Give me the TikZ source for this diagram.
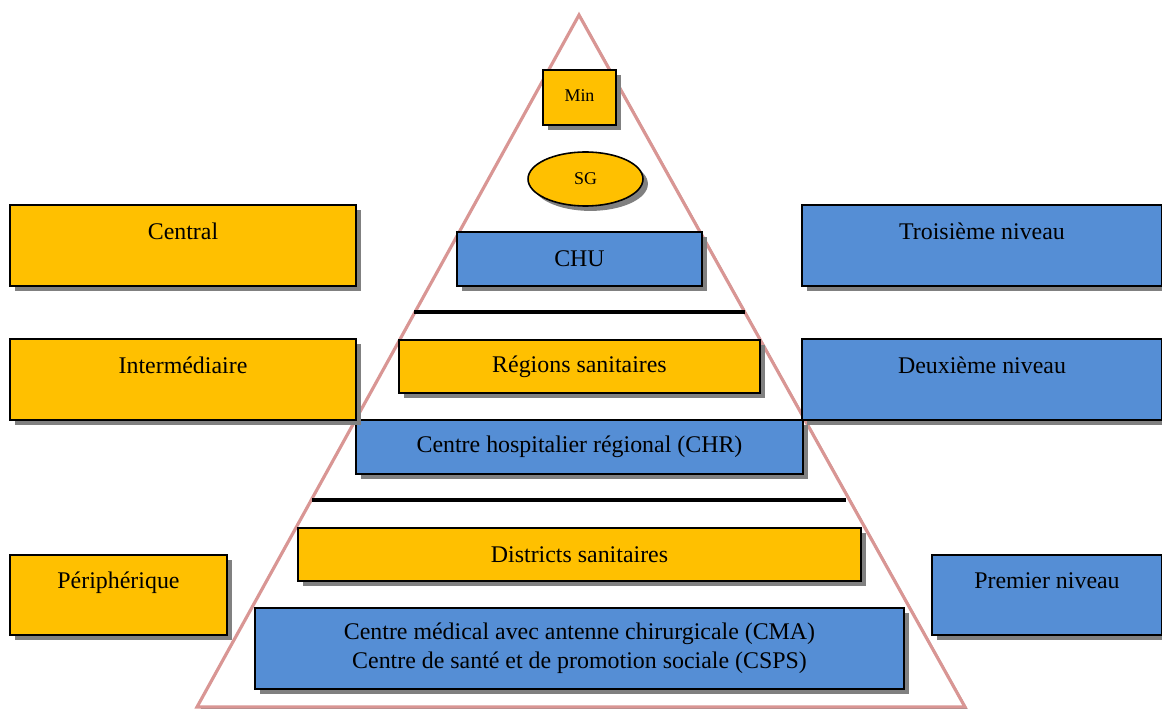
\documentclass[tikz,border=0pt]{standalone}
\usepackage{fontspec}
\setmainfont{Liberation Serif}
\usetikzlibrary{shadows,shapes.geometric}
\definecolor{jaune}{HTML}{FFC000}
\definecolor{bleu}{HTML}{558ED5}
\definecolor{rose}{HTML}{D99694}
\tikzstyle{boite} = [rectangle, draw=black, line width=0.9pt, text centered, align=center, inner sep=0pt, drop shadow={shadow xshift=2.8pt, shadow yshift=-2.8pt, fill=black!50, opacity=1}]
\tikzstyle{jbox} = [boite, fill=jaune]
\tikzstyle{bbox} = [boite, fill=bleu]
\tikzstyle{cote} = [minimum width=6.92cm, minimum height=1.62cm]
\tikzstyle{trait} = [draw, line width=2.3pt]

\begin{document}
\begin{tikzpicture}[x=0.02cm, y=-0.02cm]
    \tikzstyle{every node}=[font=\fontsize{13.6}{16.4}\selectfont]
    \useasboundingbox (0,0) rectangle (1162,709);
    % pyramide
    \path[draw=rose, line width=1.8pt, fill=white, line join=miter,
        drop shadow={shadow xshift=1.8pt, shadow yshift=-1.8pt, fill=black!50, opacity=1}]
        (579,15) -- (965,707) -- (197,707) -- cycle;

    \node (min) [jbox, minimum width=1.46cm, minimum height=1.10cm, font=\fontsize{10.2}{12}\selectfont] at (579.5,97.5) {\raisebox{2.5pt}{Min}};
    \node (sg) [jbox, ellipse, minimum width=2.30cm, minimum height=1.08cm, font=\fontsize{10.2}{12}\selectfont] at (585.5,179) {SG};
    \node (chu) [bbox, minimum width=4.90cm, minimum height=1.08cm] at (579.5,259) {CHU};
    \node (regions) [jbox, minimum width=7.22cm, minimum height=1.06cm] at (579.5,366.5) {Régions sanitaires};
    \node (chr) [bbox, minimum width=8.94cm, minimum height=1.08cm] at (579.5,447) {Centre hospitalier régional (CHR)};
    \node (districts) [jbox, minimum width=11.26cm, minimum height=1.06cm] at (579.5,554.5) {Districts sanitaires};
    \node (cma) [bbox, minimum width=12.98cm, minimum height=1.62cm] at (579.5,648.5) {Centre médical avec antenne chirurgicale (CMA)\\Centre de santé et de promotion sociale (CSPS)};

    \node (central) [jbox, cote] at (183,245.5) {Central\\~};
    \node (inter) [jbox, cote] at (183,379.5) {Intermédiaire\\~};
    \node (periph) [jbox, minimum width=4.34cm, minimum height=1.60cm] at (118.5,595) {Périphérique\\~};

    \node (troisieme) [bbox, cote, minimum width=7.20cm] at (982,245.5) {Troisième niveau\\~};
    \node (deuxieme) [bbox, cote, minimum width=7.20cm] at (982,379.5) {Deuxième niveau\\~};
    \node (premier) [bbox, minimum width=4.60cm, minimum height=1.60cm] at (1047,595) {Premier niveau\\~};

    % separations
    \coordinate (s1a) at (414,312);
    \coordinate (s1b) at (745,312);
    \coordinate (s2a) at (312,500);
    \coordinate (s2b) at (846,500);
    \draw [trait] (s1a) -- (s1b);
    \draw [trait] (s2a) -- (s2b);

\end{tikzpicture}
\end{document}
